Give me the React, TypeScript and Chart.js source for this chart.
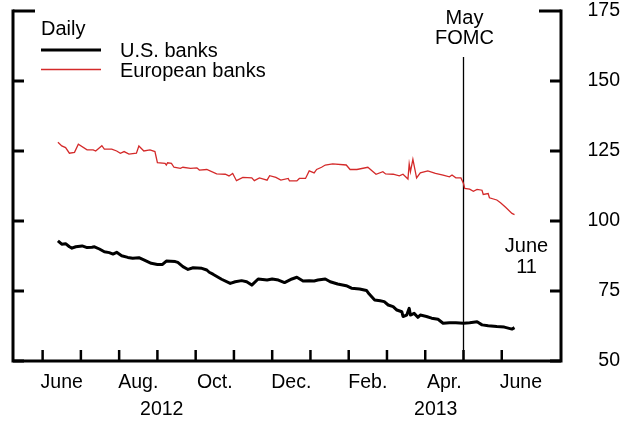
import { useEffect, useRef } from "react";
import { Chart, registerables } from "chart.js";

Chart.register(...registerables);

const FONT = "'Liberation Sans', Arial, Helvetica, sans-serif";

// ---- Data ----
const usDates = [
  "2012-06-13", "2012-06-16", "2012-06-19", "2012-06-22", "2012-06-24", "2012-06-27",
  "2012-07-02", "2012-07-06", "2012-07-10", "2012-07-12", "2012-07-16", "2012-07-20",
  "2012-07-24", "2012-07-27", "2012-07-30", "2012-08-03", "2012-08-08", "2012-08-12",
  "2012-08-17", "2012-08-21", "2012-08-27", "2012-09-01", "2012-09-05", "2012-09-08",
  "2012-09-15", "2012-09-17", "2012-09-21", "2012-09-25", "2012-09-29", "2012-10-06",
  "2012-10-10", "2012-10-12", "2012-10-15", "2012-10-22", "2012-10-29", "2012-11-02",
  "2012-11-07", "2012-11-11", "2012-11-15", "2012-11-20", "2012-11-27", "2012-12-01",
  "2012-12-06", "2012-12-11", "2012-12-17", "2012-12-21", "2012-12-26", "2012-12-31",
  "2013-01-04", "2013-01-07", "2013-01-13", "2013-01-17", "2013-01-23", "2013-01-30",
  "2013-02-03", "2013-02-09", "2013-02-14", "2013-02-16", "2013-02-20", "2013-02-24",
  "2013-02-27", "2013-03-02", "2013-03-06", "2013-03-09", "2013-03-13", "2013-03-14",
  "2013-03-17", "2013-03-19", "2013-03-20", "2013-03-23", "2013-03-26", "2013-03-28",
  "2013-04-02", "2013-04-06", "2013-04-11", "2013-04-15", "2013-04-20", "2013-04-25",
  "2013-05-01", "2013-05-06", "2013-05-12", "2013-05-16", "2013-05-21", "2013-05-28",
  "2013-06-03", "2013-06-09", "2013-06-11",
];
const usValues = [
  92.9, 91.7, 91.9, 90.8, 90.3, 90.8,
  91.1, 90.5, 90.6, 90.8, 90.0, 89.0,
  88.7, 88.2, 88.8, 87.6, 87.0, 86.7,
  86.9, 86.1, 84.9, 84.5, 84.5, 85.7,
  85.5, 85.2, 83.7, 82.7, 83.3, 83.1,
  82.5, 81.7, 81.0, 79.2, 77.7, 78.3,
  78.7, 78.3, 77.1, 79.3, 78.9, 79.3,
  78.9, 78.0, 79.3, 79.9, 78.6, 78.7,
  78.6, 78.9, 79.3, 78.3, 77.5, 76.9,
  76.0, 75.7, 75.2, 73.9, 71.8, 71.5,
  71.2, 70.0, 69.4, 68.2, 67.6, 65.9,
  66.4, 68.8, 66.4, 67.0, 65.6, 66.4,
  65.9, 65.3, 64.9, 63.5, 63.7, 63.7,
  63.5, 63.7, 64.0, 62.9, 62.6, 62.3,
  62.1, 61.4, 61.9,
];

const euDates = [
  "2012-06-13", "2012-06-16", "2012-06-19", "2012-06-22", "2012-06-26", "2012-06-29",
  "2012-07-06", "2012-07-11", "2012-07-13", "2012-07-18", "2012-07-20", "2012-07-26",
  "2012-07-30", "2012-08-02", "2012-08-05", "2012-08-09", "2012-08-15", "2012-08-17",
  "2012-08-21", "2012-08-26", "2012-08-30", "2012-09-01", "2012-09-07", "2012-09-08",
  "2012-09-09", "2012-09-12", "2012-09-14", "2012-09-19", "2012-09-21", "2012-09-27",
  "2012-10-02", "2012-10-04", "2012-10-10", "2012-10-18", "2012-10-25", "2012-10-28",
  "2012-10-31", "2012-11-03", "2012-11-08", "2012-11-15", "2012-11-17", "2012-11-21",
  "2012-11-27", "2012-11-29", "2012-12-04", "2012-12-08", "2012-12-14", "2012-12-15",
  "2012-12-21", "2012-12-23", "2012-12-28", "2012-12-31", "2013-01-04", "2013-01-06",
  "2013-01-10", "2013-01-13", "2013-01-19", "2013-01-30", "2013-02-02", "2013-02-07",
  "2013-02-15", "2013-02-21", "2013-02-26", "2013-02-28", "2013-03-06", "2013-03-11",
  "2013-03-14", "2013-03-18", "2013-03-19", "2013-03-20", "2013-03-22", "2013-03-25",
  "2013-03-28", "2013-04-03", "2013-04-09", "2013-04-15", "2013-04-20", "2013-04-22",
  "2013-04-25", "2013-04-29", "2013-05-01", "2013-05-02", "2013-05-06", "2013-05-09",
  "2013-05-12", "2013-05-16", "2013-05-17", "2013-05-21", "2013-05-22", "2013-05-28",
  "2013-05-31", "2013-06-04", "2013-06-09", "2013-06-11",
];
const euValues = [
  128.1, 126.8, 126.2, 124.2, 124.5, 127.4,
  125.4, 125.4, 125.0, 126.9, 125.7, 125.7,
  125.0, 124.2, 124.8, 123.9, 124.2, 126.8,
  125.0, 125.4, 124.8, 120.8, 120.6, 120.0,
  120.8, 120.6, 119.2, 118.8, 119.2, 118.8,
  119.0, 118.2, 118.4, 116.8, 116.7, 116.1,
  117.0, 114.4, 115.6, 115.4, 114.4, 115.4,
  114.6, 116.2, 115.6, 114.6, 115.2, 114.3,
  114.3, 115.2, 115.2, 117.9, 117.2, 118.4,
  119.2, 120.0, 120.4, 120.0, 118.4, 118.4,
  119.2, 116.7, 117.6, 116.8, 116.7, 116.1,
  116.7, 115.0, 120.4, 117.6, 122.0, 115.4,
  117.2, 117.9, 117.0, 116.4, 115.8, 116.4,
  115.4, 115.4, 113.4, 111.6, 111.4, 110.6,
  111.3, 111.0, 109.5, 109.8, 108.3, 107.5,
  106.5, 104.9, 102.7, 102.3,
];

const axisStart = "2012-05-08";
const axisEnd = "2013-07-18";
const monthTickDates = [
  "2012-06-01", "2012-07-01", "2012-08-01", "2012-09-01", "2012-10-01", "2012-11-01",
  "2012-12-01", "2013-01-01", "2013-02-01", "2013-03-01", "2013-04-01", "2013-05-01",
  "2013-06-01",
];
const monthLabelMonths = ["2012-06", "2012-08", "2012-10", "2012-12", "2013-02", "2013-04", "2013-06"];
const monthLabels = ["June", "Aug.", "Oct.", "Dec.", "Feb.", "Apr.", "June"];
const yearLabels = ["2012", "2013"];
const yearBoundary = "2013-01-01";
const yTicks = [50, 75, 100, 125, 150, 175];
const fomcDate = "2013-05-01";

// months since 2012-06-01 (evenly spaced months)
function monthPos(s: string): number {
  const [y, m, d] = s.split("-").map(Number);
  const dim = new Date(y, m, 0).getDate();
  return (y - 2012) * 12 + (m - 6) + ((d || 1) - 1) / dim;
}

const xMin = monthPos(axisStart);
const xMax = monthPos(axisEnd);

const framePlugin = {
  id: "frame",
  beforeDatasetsDraw(chart: any) {
    const { ctx, chartArea, scales } = chart;
    const x = Math.round(scales.x.getPixelForValue(monthPos(fomcDate))) + 0.5;
    ctx.save();
    ctx.strokeStyle = "#000";
    ctx.lineWidth = 1.3;
    ctx.beginPath();
    ctx.moveTo(x, 57);
    ctx.lineTo(x, chartArea.bottom);
    ctx.stroke();
    ctx.restore();
  },
  afterDraw(chart: any) {
    const { ctx, chartArea, scales } = chart;
    const { left, right, top, bottom } = chartArea;
    ctx.save();
    ctx.strokeStyle = "#000";
    ctx.lineCap = "butt";
    ctx.lineJoin = "miter";
    // frame
    ctx.lineWidth = 3;
    ctx.beginPath();
    ctx.moveTo(left, top - 1.5);
    ctx.lineTo(left, bottom);
    ctx.lineTo(right, bottom);
    ctx.lineTo(right, top - 1.5);
    ctx.stroke();
    // y ticks (inward, both sides)
    ctx.lineWidth = 3;
    yTicks.forEach((v) => {
      const y = scales.y.getPixelForValue(v);
      const len = v === yTicks[yTicks.length - 1] ? 22 : 11;
      ctx.beginPath();
      ctx.moveTo(left, y);
      ctx.lineTo(left + len, y);
      ctx.moveTo(right, y);
      ctx.lineTo(right - len, y);
      ctx.stroke();
    });
    // x ticks (inward)
    ctx.lineWidth = 2.5;
    monthTickDates.forEach((d) => {
      const x = scales.x.getPixelForValue(monthPos(d));
      ctx.beginPath();
      ctx.moveTo(x, bottom);
      ctx.lineTo(x, bottom - 11);
      ctx.stroke();
    });
    // legend
    ctx.fillStyle = "#000";
    ctx.font = `20px ${FONT}`;
    ctx.textBaseline = "alphabetic";
    ctx.textAlign = "left";
    ctx.fillText("Daily", 41, 35);
    ctx.fillText("U.S. banks", 120, 56.5);
    ctx.fillText("European banks", 120, 77);
    ctx.lineWidth = 3;
    ctx.beginPath();
    ctx.moveTo(41, 50);
    ctx.lineTo(101, 50);
    ctx.stroke();
    ctx.strokeStyle = "#d42a2a";
    ctx.lineWidth = 1.3;
    ctx.beginPath();
    ctx.moveTo(41, 69.5);
    ctx.lineTo(101, 69.5);
    ctx.stroke();
    // annotations
    ctx.textAlign = "center";
    const fx = scales.x.getPixelForValue(monthPos(fomcDate));
    ctx.fillText("May", fx + 1, 23.5);
    ctx.fillText("FOMC", fx + 1, 44);
    const ex = scales.x.getPixelForValue(monthPos(euDates[euDates.length - 1]));
    ctx.fillText("June", ex + 12, 251.5);
    ctx.fillText("11", ex + 12, 273);
    ctx.restore();
  },
};

export default function App() {
  const ref = useRef<HTMLCanvasElement | null>(null);
  useEffect(() => {
    if (!ref.current) return;
    const tickFont = { family: FONT, size: 19.5 };
    const chart = new Chart(ref.current, {
      type: "line",
      data: {
        datasets: [
          {
            label: "European banks",
            data: euDates.map((d, i) => ({ x: monthPos(d), y: euValues[i] })),
            borderColor: "#d42a2a",
            borderWidth: 1.3,
            pointRadius: 0,
            tension: 0,
            xAxisID: "x",
            yAxisID: "y",
          },
          {
            label: "U.S. banks",
            data: usDates.map((d, i) => ({ x: monthPos(d), y: usValues[i] })),
            borderColor: "#000",
            borderWidth: 3,
            borderJoinStyle: "round",
            pointRadius: 0,
            tension: 0,
            xAxisID: "x",
            yAxisID: "y",
          },
        ],
      },
      options: {
        animation: false,
        responsive: false,
        maintainAspectRatio: false,
        devicePixelRatio: 1,
        layout: { padding: { left: 13, top: 11, right: 0, bottom: 0 } },
        plugins: { legend: { display: false }, tooltip: { enabled: false } },
        scales: {
          x: {
            type: "linear",
            position: "bottom",
            min: xMin,
            max: xMax,
            weight: 0,
            grid: { display: false, drawTicks: false },
            border: { display: false },
            afterBuildTicks: (s: any) => {
              s.ticks = monthLabelMonths.map((m) => ({ value: monthPos(m + "-01") + 0.5 }));
            },
            afterFit: (s: any) => {
              s.height = 34;
              s.paddingLeft = 0;
              s.paddingRight = 0;
            },
            ticks: {
              autoSkip: false,
              maxRotation: 0,
              padding: 10,
              color: "#000",
              font: tickFont,
              callback: (_v: any, i: number) => monthLabels[i],
            },
          },
          x2: {
            type: "linear",
            position: "bottom",
            min: xMin,
            max: xMax,
            weight: 1,
            grid: { display: false, drawTicks: false },
            border: { display: false },
            afterBuildTicks: (s: any) => {
              const b = monthPos(yearBoundary);
              s.ticks = [{ value: (xMin + b) / 2 }, { value: (b + xMax) / 2 }];
            },
            afterFit: (s: any) => {
              s.height = 29;
              s.paddingLeft = 0;
              s.paddingRight = 0;
            },
            ticks: {
              autoSkip: false,
              maxRotation: 0,
              padding: 3,
              color: "#000",
              font: tickFont,
              callback: (_v: any, i: number) => yearLabels[i],
            },
          },
          y: {
            type: "linear",
            position: "right",
            min: yTicks[0],
            max: yTicks[yTicks.length - 1],
            grid: { display: false, drawTicks: false },
            border: { display: false },
            afterFit: (s: any) => {
              s.width = 59;
              s.paddingTop = 0;
              s.paddingBottom = 0;
            },
            ticks: {
              stepSize: 25,
              padding: 13,
              crossAlign: "far",
              color: "#000",
              font: tickFont,
            },
          },
        },
      },
      plugins: [framePlugin],
    } as any);
    return () => chart.destroy();
  }, []);
  return (
    <div style={{ position: "absolute", left: 0, top: 0, width: 620, height: 424, background: "#fff" }}>
      <canvas ref={ref} width={620} height={424} style={{ display: "block", width: 620, height: 424 }} />
    </div>
  );
}
